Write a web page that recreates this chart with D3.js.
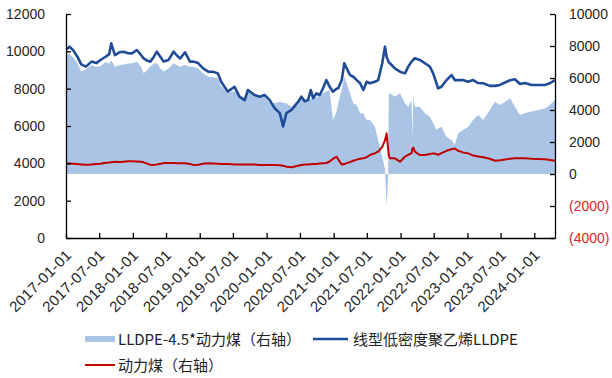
<!DOCTYPE html>
<html lang="zh">
<head>
<meta charset="UTF-8">
<title>LLDPE与动力煤</title>
<script src="https://cdn.jsdelivr.net/npm/d3@7/dist/d3.min.js"></script>
<style>
  body { margin: 0; background: #fff; }
  svg text { font-family: "Liberation Sans", Arial, sans-serif; fill: #262626; }
  .legend text { font-family: "Noto Sans CJK SC", sans-serif; font-size: 15px; fill: #222; }
</style>
</head>
<body>
<svg width="612" height="378"></svg>
<script>
// data
var dates = [
  '2017-01-03','2017-01-20','2017-02-10','2017-03-05','2017-03-25','2017-04-20','2017-05-20','2017-06-15',
  '2017-07-10','2017-08-05','2017-08-25','2017-09-05','2017-09-25','2017-10-20','2017-11-12','2017-12-05',
  '2017-12-27','2018-01-23','2018-02-15','2018-03-01','2018-03-20','2018-04-06','2018-04-25','2018-05-12',
  '2018-06-01','2018-06-18','2018-07-15','2018-08-11','2018-09-01','2018-09-16','2018-10-13','2018-11-09',
  '2018-11-26','2018-12-23','2019-01-19','2019-02-16','2019-03-14','2019-04-10','2019-04-28','2019-06-03',
  '2019-07-10','2019-08-06','2019-09-03','2019-09-21','2019-10-27','2019-11-24','2019-12-21','2020-01-18',
  '2020-02-14','2020-03-13','2020-03-31','2020-04-18','2020-05-16','2020-06-21','2020-07-09','2020-07-27',
  '2020-08-14','2020-08-29','2020-09-11','2020-09-29','2020-10-17','2020-11-04','2020-11-22','2020-12-10',
  '2020-12-28','2021-01-17','2021-01-26','2021-02-14','2021-02-28','2021-03-13','2021-03-31','2021-04-18',
  '2021-05-07','2021-05-25','2021-06-12','2021-06-30','2021-07-18','2021-08-14','2021-09-01','2021-09-23',
  '2021-10-08','2021-10-17','2021-10-25','2021-10-29','2021-11-04','2021-12-01','2021-12-29','2022-01-25',
  '2022-02-12','2022-03-02','2022-03-07','2022-03-12','2022-03-20','2022-04-16','2022-05-14','2022-06-10',
  '2022-06-28','2022-07-16','2022-07-25','2022-08-12','2022-09-09','2022-10-06','2022-10-24','2022-11-11',
  '2022-12-08','2023-01-05','2023-02-01','2023-03-01','2023-03-28','2023-05-03','2023-05-31','2023-06-28',
  '2023-07-25','2023-08-22','2023-09-17','2023-10-15','2023-11-11','2023-12-18','2024-01-24','2024-02-28',
  '2024-03-26','2024-04-23'
];
var lldpe = [
  10100,10250,10050,9700,9300,9180,9450,9370,9550,9710,9850,10430,9800,9950,9980,9900,
  9890,10070,9800,9620,9500,9450,9700,9980,9700,9450,9540,9980,9750,9620,9950,9450,
  9450,9370,9090,8910,8910,8820,8370,7840,8100,7570,7390,7930,7660,7570,7660,7390,
  6950,6690,5980,6690,6860,7300,7570,7320,7390,7930,7480,7750,7660,8020,8460,8100,
  7840,8000,8020,8460,9360,9090,8730,8640,8460,8290,7930,8370,8290,8370,8460,9360,
  10250,9710,9500,9400,9360,9090,8910,8820,9180,9450,9500,9550,9630,9540,9360,9180,
  8820,8290,8020,8100,8460,8730,8460,8460,8460,8370,8460,8300,8290,8150,8150,8200,
  8330,8450,8500,8250,8300,8200,8200,8200,8290,8460
];
var coal = [
  650,660,640,620,600,580,590,620,640,700,720,740,760,750,770,790,
  800,780,760,730,650,580,570,590,640,680,690,680,670,670,670,620,
  570,580,640,670,660,640,630,620,600,600,600,600,590,570,560,560,
  560,550,520,460,420,520,560,590,600,610,620,630,650,670,690,780,
  950,1080,900,600,620,680,750,830,900,950,980,1050,1190,1300,1400,1700,
  2100,2540,1600,1150,980,980,770,1080,1190,1300,1600,1650,1400,1190,1190,1250,
  1290,1250,1190,1300,1450,1550,1600,1450,1350,1290,1150,1100,1050,950,830,860,
  900,960,980,980,980,950,930,920,880,830
];
var spread = [
  7450,7500,7300,6900,6400,6550,6800,6700,6750,7000,6900,7100,6700,6800,6850,6900,
  6920,7020,6700,6300,6500,6700,6900,6920,6600,6400,6600,6920,6800,6700,6810,6700,
  6700,6600,6300,6080,6050,5980,5500,5040,5200,4830,4700,5150,4900,4830,4800,4450,
  4420,4520,4450,4420,4210,4625,4800,4520,4600,4700,4650,4800,4900,5040,5150,5250,
  3375,3900,4420,5300,6080,5670,5040,4420,4300,3790,3790,3375,3375,2960,2125,1080,
  300,-2050,-300,5000,5040,4830,5040,4420,4210,4600,2330,4900,4200,4210,3790,3580,
  3170,2750,2850,2960,2330,2125,1810,2540,2750,2960,3375,3690,3375,4000,4520,4310,
  4520,4730,4210,3690,3790,3900,4000,4100,4310,4625
];
var leftTicks = [0, 2000, 4000, 6000, 8000, 10000, 12000];
var rightTicks = [-4000, -2000, 0, 2000, 4000, 6000, 8000, 10000];
var xTickLabels = ['2017-01-01','2017-07-01','2018-01-01','2018-07-01','2019-01-01','2019-07-01',
  '2020-01-01','2020-07-01','2021-01-01','2021-07-01','2022-01-01','2022-07-01','2023-01-01',
  '2023-07-01','2024-01-01'];
var legendLabels = ['LLDPE-4.5*动力煤（右轴）', '线型低密度聚乙烯LLDPE', '动力煤（右轴）'];

var svg = d3.select('svg'),
    margin = {top: 14, right: 57, bottom: 140, left: 66},
    width = 612 - margin.left - margin.right,
    height = 378 - margin.top - margin.bottom,
    parse = d3.timeParse('%Y-%m-%d'),
    times = dates.map(parse);

var x = d3.scaleTime().domain([parse('2017-01-01'), times[times.length - 1]]).range([0, width]),
    yL = d3.scaleLinear().domain([0, 12000]).range([height, 0]),
    yR = d3.scaleLinear().domain([-4000, 10000]).range([height, 0]);

var g = svg.append('g').attr('transform', 'translate(' + [margin.left, margin.top] + ')');

// spread area on the right axis
var area = d3.area()
    .x(function(d, i) { return x(times[i]); })
    .y0(yR(0))
    .y1(function(d) { return yR(d); });
g.append('path').datum(spread).attr('d', area).attr('fill', '#aac4e6');

var coalLine = d3.line()
    .x(function(d, i) { return x(times[i]); })
    .y(function(d) { return yR(d); });
g.append('path').datum(coal).attr('d', coalLine)
    .attr('fill', 'none').attr('stroke', '#c00000').attr('stroke-width', 2).attr('stroke-linejoin', 'round');

var lldpeLine = d3.line()
    .x(function(d, i) { return x(times[i]); })
    .y(function(d) { return yL(d); });
g.append('path').datum(lldpe).attr('d', lldpeLine)
    .attr('fill', 'none').attr('stroke', '#204c97').attr('stroke-width', 2.6).attr('stroke-linejoin', 'round');

// axes
var leftAxis = g.append('g')
    .call(d3.axisLeft(yL).tickValues(leftTicks).tickSize(-5).tickSizeOuter(0).tickPadding(21)
      .tickFormat(d3.format('d')));
var rightAxis = g.append('g').attr('transform', 'translate(' + width + ',0)')
    .call(d3.axisRight(yR).tickValues(rightTicks).tickSize(-5).tickSizeOuter(0).tickPadding(14)
      .tickFormat(function(d) { return d < 0 ? '(' + (-d) + ')' : d; }));

var bottomAxis = g.append('g').attr('transform', 'translate(0,' + height + ')')
    .call(d3.axisBottom(x).tickValues(xTickLabels.map(parse)).tickSize(-5).tickSizeOuter(0)
      .tickFormat(d3.timeFormat('%Y-%m-%d')));
bottomAxis.selectAll('text')
    .attr('x', 0).attr('y', 0).attr('dy', 0)
    .attr('transform', 'translate(6,18) rotate(-45)')
    .style('text-anchor', 'end')
    .style('letter-spacing', '0.4px');

[leftAxis, rightAxis, bottomAxis].forEach(function(a) {
  a.selectAll('text').style('font-size', '14px').style('font-family', '"Liberation Sans", Arial, sans-serif')
    .style('fill', '#262626');
  a.selectAll('path, line').attr('stroke', '#000').attr('stroke-width', 1.3);
});
bottomAxis.selectAll('text').style('font-size', '15px');
rightAxis.selectAll('text').filter(function(d) { return d < 0; }).style('fill', '#d9262c');

// legend
var legend = svg.append('g').attr('class', 'legend');
legend.append('rect').attr('x', 85).attr('y', 336).attr('width', 30).attr('height', 6).attr('fill', '#aac4e6');
legend.append('text').attr('x', 118).attr('y', 344.5).text(legendLabels[0]);
legend.append('line').attr('x1', 313).attr('x2', 348).attr('y1', 339).attr('y2', 339)
    .attr('stroke', '#204c97').attr('stroke-width', 2.6);
legend.append('text').attr('x', 353).attr('y', 344.5).text(legendLabels[1]);
legend.append('line').attr('x1', 85).attr('x2', 115).attr('y1', 365).attr('y2', 365)
    .attr('stroke', '#c00000').attr('stroke-width', 2);
legend.append('text').attr('x', 118).attr('y', 370.5).text(legendLabels[2]);
</script>
</body>
</html>
